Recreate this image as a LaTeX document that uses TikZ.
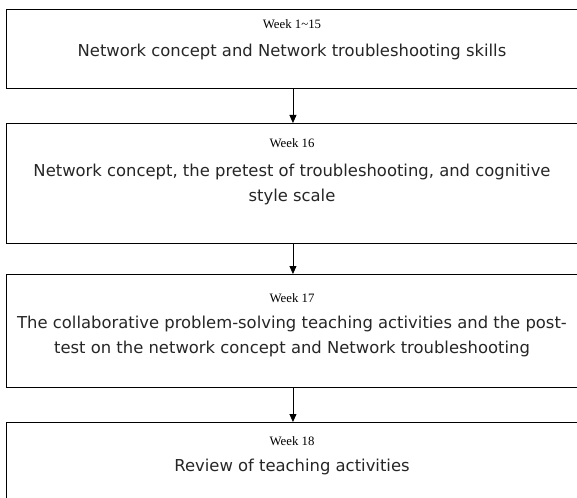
\documentclass[tikz,border=0pt]{standalone}
\usepackage{fontspec}
\setmainfont{Liberation Serif}
\newfontfamily\mainsans{DejaVu Sans}
\usetikzlibrary{arrows.meta}
\begin{document}
\begin{tikzpicture}[x=1pt,y=-1pt,
  box/.style={draw=black, line width=0.9pt, minimum width=574pt, inner sep=0pt, anchor=north west},
  wk/.style={font=\fontsize{12.8}{14}\selectfont, inner sep=0pt, text=black},
  mt/.style={font=\mainsans\fontsize{16.4}{25}\selectfont, align=center, inner sep=0pt, text=black!85},
  arr/.style={-{Triangle[width=7pt,length=8pt]}, line width=0.8pt}]
\useasboundingbox (0,0) rectangle (577,497);
\node[box, minimum height=79pt] (b1) at (5.5,9) {};
\node[box, minimum height=120pt] (b2) at (5.5,123) {};
\node[box, minimum height=113pt] (b3) at (5.5,274) {};
\node[box, minimum height=90pt] (b4) at (5.5,422) {};
\node[wk] (w1) at (292,24.5) {Week 1\textasciitilde15};
\node[mt] (t1) at (292,51.5) {Network concept and Network troubleshooting skills};
\node[wk] (w2) at (292,143) {Week 16};
\node[mt] (t2) at (292,184) {Network concept, the pretest of troubleshooting, and cognitive\\style scale};
\node[wk] (w3) at (292,298.5) {Week 17};
\node[mt] (t3) at (292,336.5) {The collaborative problem-solving teaching activities and the post-\\test on the network concept and Network troubleshooting};
\node[wk] (w4) at (292,441.5) {Week 18};
\node[mt] (t4) at (292,466.5) {Review of teaching activities};
\draw[arr] (b1.south) -- (b2.north);
\draw[arr] (b2.south) -- (b3.north);
\draw[arr] (b3.south) -- (b4.north);
\end{tikzpicture}
\end{document}
